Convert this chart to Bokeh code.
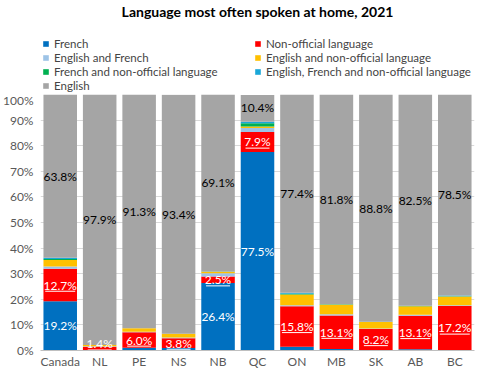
from bokeh.plotting import figure
from bokeh.layouts import column
from bokeh.models import ColumnDataSource, Legend, LegendItem, FixedTicker, Range1d
from bokeh.core.properties import value
from bokeh.embed import file_html
from bokeh.resources import INLINE

provinces = ["Canada", "NL", "PE", "NS", "NB", "QC", "ON", "MB", "SK", "AB", "BC"]
french = [19.2, 0.1, 1.1, 1.0, 26.4, 77.5, 1.5, 0.6, 0.2, 0.5, 0.2]
non_official = [12.7, 1.4, 6.0, 3.8, 2.5, 7.9, 15.8, 13.1, 8.2, 13.1, 17.2]
english_french = [0.9, 0.2, 0.2, 0.3, 1.3, 1.5, 0.4, 0.5, 0.2, 0.4, 0.3]
english_non_official = [2.6, 0.4, 1.4, 1.4, 0.6, 0.6, 4.2, 3.8, 2.5, 3.3, 3.4]
french_non_official = [0.3, 0.0, 0.0, 0.0, 0.05, 1.3, 0.3, 0.1, 0.05, 0.1, 0.1]
eng_fr_non_official = [0.5, 0.0, 0.0, 0.05, 0.05, 0.6, 0.4, 0.1, 0.05, 0.1, 0.3]
english = [63.8, 97.9, 91.3, 93.4, 69.1, 10.4, 77.4, 81.8, 88.8, 82.5, 78.5]

series_names = ["French", "Non-official language", "English and French",
                "English and non-official language", "French and non-official language",
                "English, French and non-official language", "English"]
series_keys = ["fr", "no", "ef", "eno", "fno", "efno", "en"]
colors = ["#0070C0", "#FF0000", "#9DC3E6", "#FFC000", "#00B050", "#1AA7D8", "#A5A5A5"]
y_ticks = [0, 10, 20, 30, 40, 50, 60, 70, 80, 90, 100]

FONT = "Lato"
x = list(range(len(provinces)))
data = dict(x=x, fr=french, no=non_official, ef=english_french, eno=english_non_official,
            fno=french_non_official, efno=eng_fr_non_official, en=english)
src = ColumnDataSource(data)

# ---------------- header figure: title + legend ----------------
head = figure(width=476, height=92, x_range=Range1d(0, 1), y_range=Range1d(0, 1),
              output_backend="svg", toolbar_location=None,
              min_border_left=0, min_border_right=0, min_border_bottom=0, min_border_top=0,
              x_axis_location=None, y_axis_location=None)
head.grid.grid_line_color = None
head.outline_line_color = None
# zero-height stack: only used to draw the legend swatches
swatch_src = ColumnDataSource({"x": [0.5], **{k: [0] for k in series_keys}})
hrs = head.vbar_stack(series_keys, x="x", width=0.0, source=swatch_src, color=colors, line_width=0)


def make_legend(idx, loc):
    return Legend(items=[LegendItem(label=series_names[k], renderers=[hrs[k]]) for k in idx],
                  location=loc, label_text_font=FONT, label_text_font_size="11.5px",
                  glyph_width=7, glyph_height=7, label_height=14,
                  label_standoff=5, spacing=0, padding=2, margin=0,
                  border_line_color=None, background_fill_alpha=0)


head.add_layout(make_legend([0, 2, 4, 6], (2, 0)), "center")
head.add_layout(make_legend([1, 3, 5], (214, 14)), "center")

head.title.text = "Language most often spoken at home, 2021"
head.title.align = "center"
head.title.text_font = FONT
head.title.text_font_size = "14px"
head.title.text_font_style = "bold"
head.title.text_color = "black"
head.title.standoff = 0

# ---------------- main chart ----------------
p = figure(width=476, height=279, x_range=Range1d(-0.5, len(provinces) - 0.5),
           y_range=Range1d(0, 100), output_backend="svg", toolbar_location=None,
           min_border_left=36, min_border_right=2, min_border_bottom=20, min_border_top=2)

p.vbar_stack(series_keys, x="x", width=0.85, source=src, color=colors, line_width=0)

fr_x, fr_y, fr_t = [], [], []
no_x, no_y, no_t = [], [], []
en_x, en_y, en_t = [], [], []
ul_x0, ul_x1, ul_y = [], [], []
for i in x:
    if french[i] >= 5:
        fr_x.append(i); fr_y.append(french[i] / 2); fr_t.append(f"{french[i]:.1f}%")
    mid = max(french[i] + non_official[i] / 2, 2.6)
    t = f"{non_official[i]:.1f}%"
    no_x.append(i); no_y.append(mid); no_t.append(t)
    hw = 0.076 * len(t)
    ul_x0.append(i - hw); ul_x1.append(i + hw); ul_y.append(mid - 2.4)
    base = 100 - english[i]
    en_x.append(i); en_y.append(base + english[i] / 2); en_t.append(f"{english[i]:.1f}%")

p.text(x=fr_x, y=fr_y, text=fr_t, text_color="white", text_font=value(FONT),
       text_font_size="12px", text_align="center", text_baseline="middle")
p.text(x=no_x, y=no_y, text=no_t, text_color="white", text_font=value(FONT),
       text_font_size="12px", text_align="center", text_baseline="middle")
p.segment(x0=ul_x0, x1=ul_x1, y0=ul_y, y1=ul_y, line_color="white", line_width=1)
p.text(x=en_x, y=en_y, text=en_t, text_color="black", text_font=value(FONT),
       text_font_size="12px", text_align="center", text_baseline="middle")

p.xaxis.ticker = FixedTicker(ticks=x)
p.xaxis.major_label_overrides = {i: provinces[i] for i in x}
p.yaxis.ticker = FixedTicker(ticks=y_ticks)
p.yaxis.major_label_overrides = {v: f"{v}%" for v in y_ticks}
for ax in (p.xaxis, p.yaxis):
    ax.major_tick_line_color = None
    ax.minor_tick_line_color = None
    ax.major_tick_out = 0
    ax.major_tick_in = 0
    ax.major_label_text_font = FONT
    ax.major_label_text_font_size = "12px"
    ax.major_label_text_color = "#595959"
p.yaxis.axis_line_color = None
p.xaxis.axis_line_color = "#BFBFBF"
p.xaxis.major_label_standoff = 3
p.yaxis.major_label_standoff = 7
p.xgrid.grid_line_color = None
p.ygrid.grid_line_color = "#D9D9D9"
p.outline_line_color = None

layout = column(head, p, spacing=0)
open("out.html", "w").write(file_html(layout, INLINE))
